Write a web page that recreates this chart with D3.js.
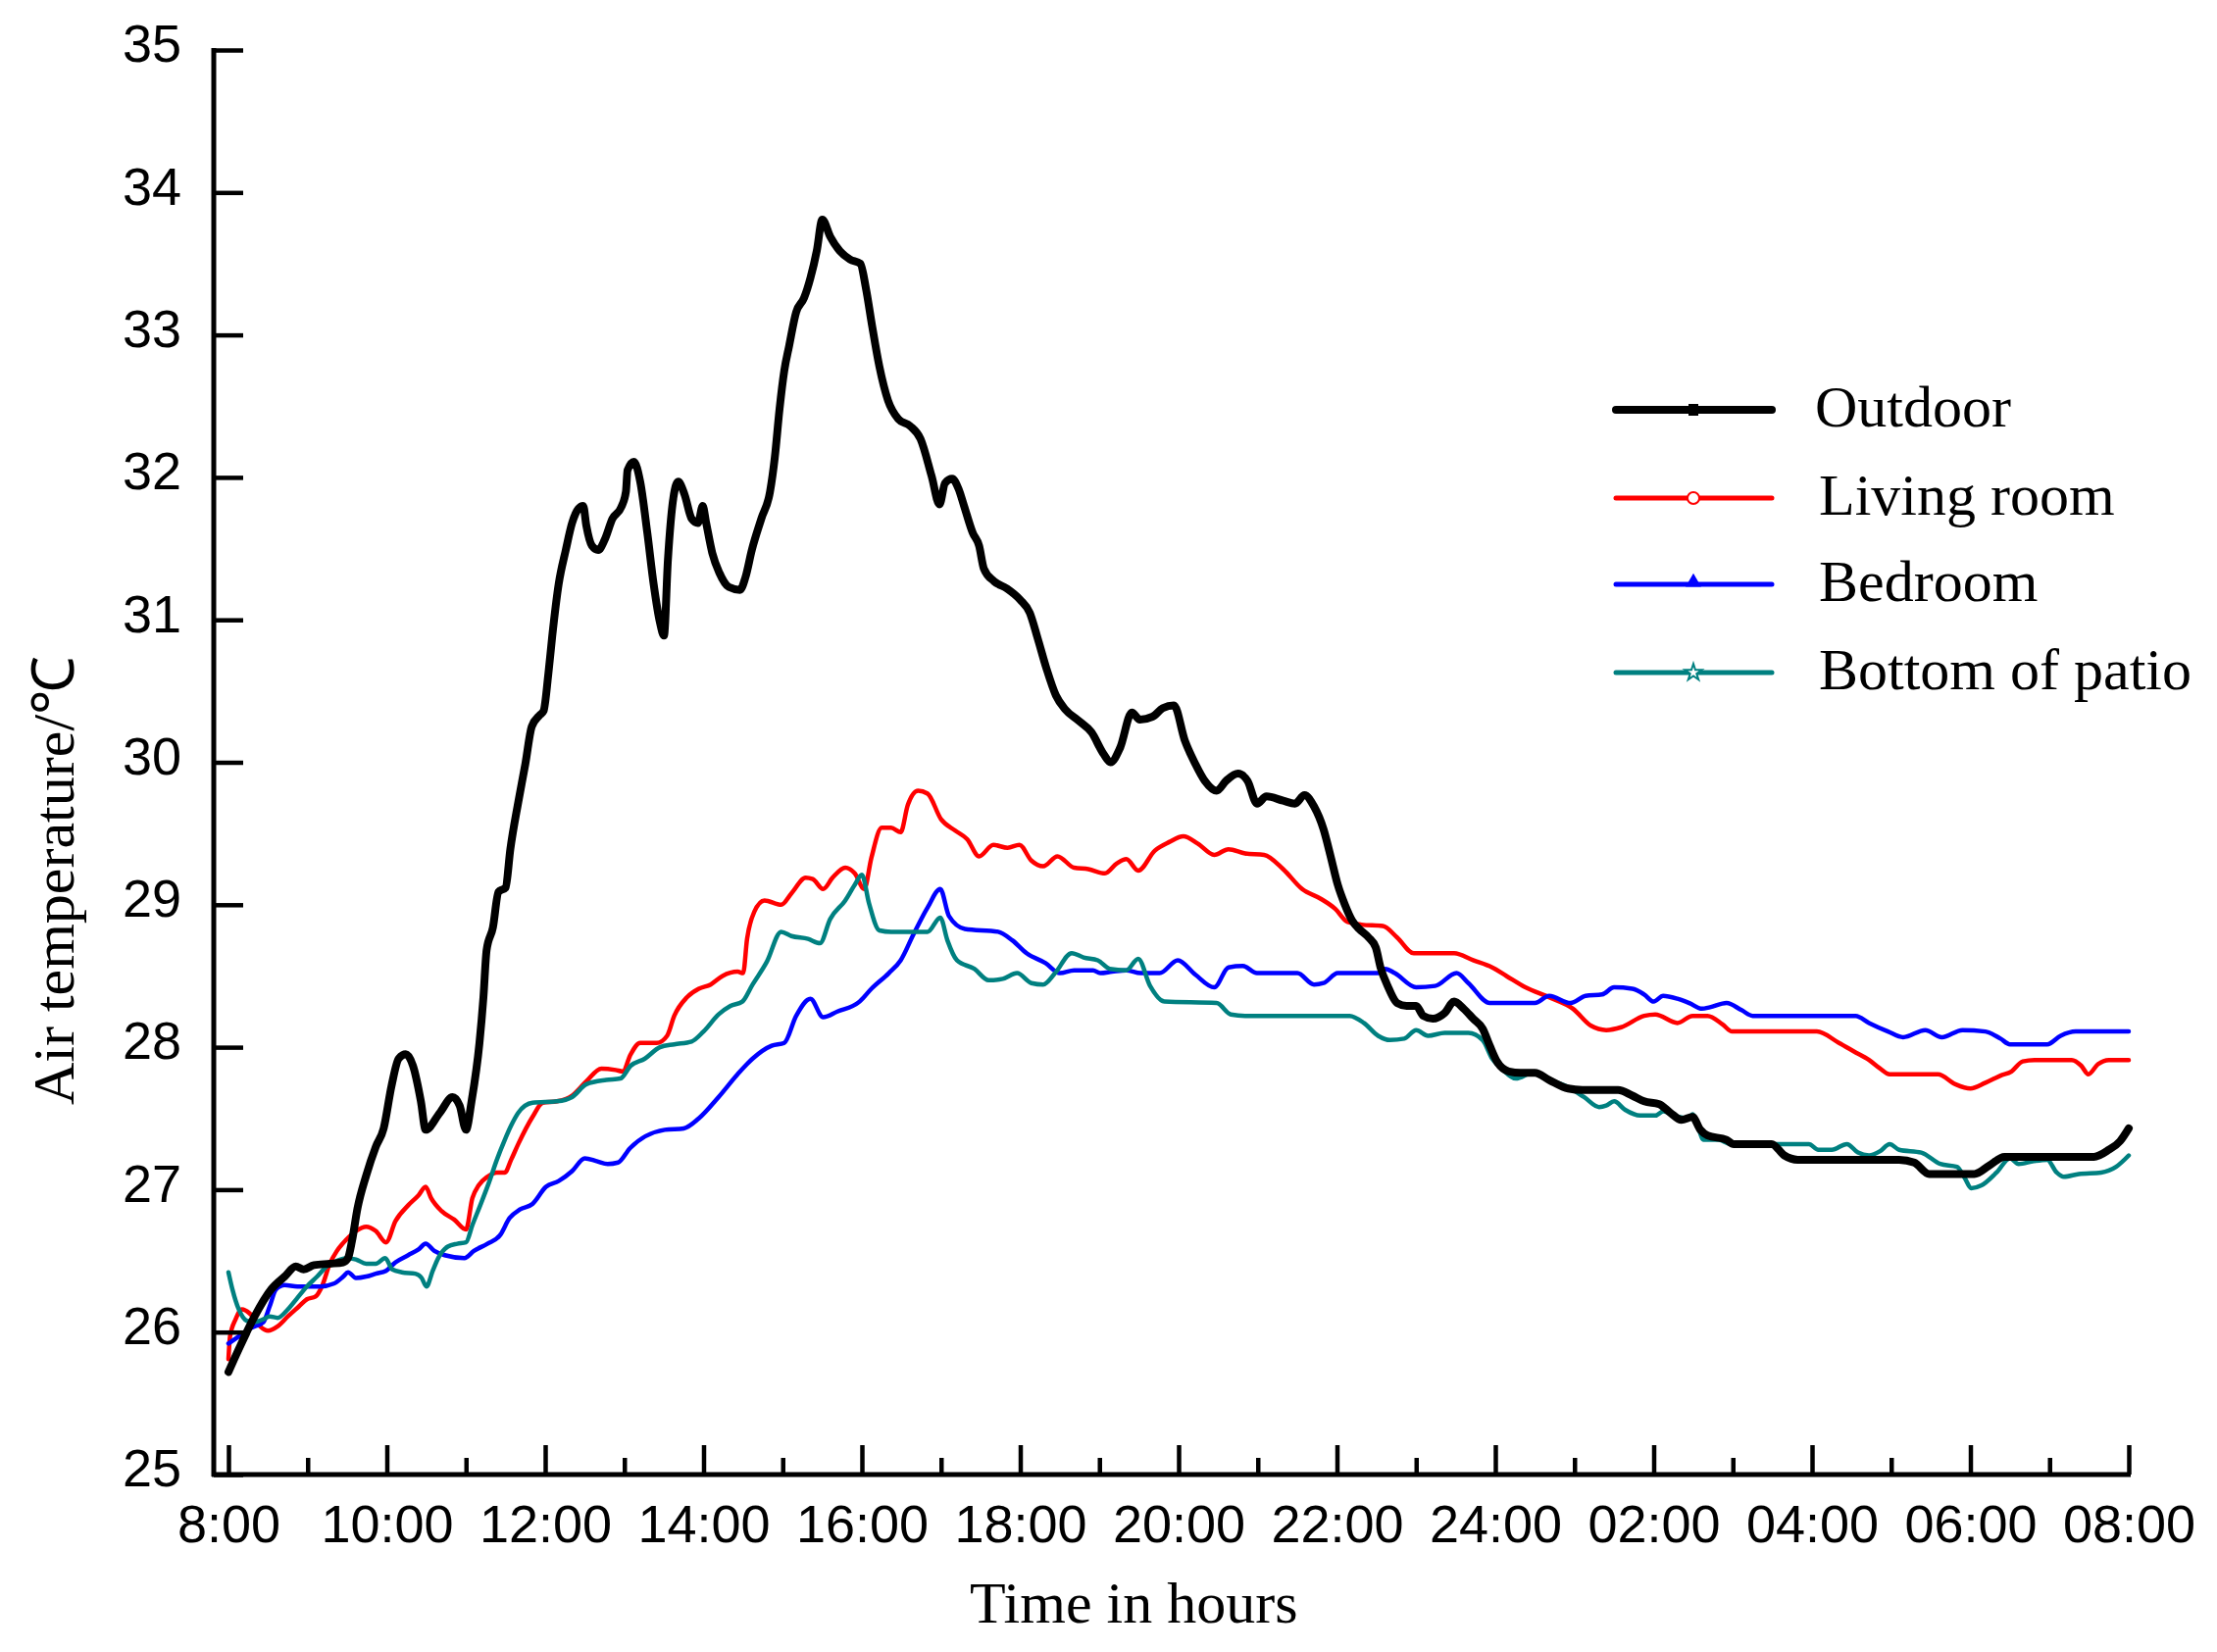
<!DOCTYPE html>
<html>
<head>
<meta charset="utf-8">
<script src="https://cdn.jsdelivr.net/npm/d3@7"></script>
<style>
  body { margin: 0; background: #fff; }
</style>
</head>
<body>
<div id="chart"></div>
<script>
// hours after 8:00
const outdoorHour = [0,0.13,0.33,0.54,0.71,0.85,0.95,1.08,1.28,1.45,1.51,1.56,1.63,1.74,1.86,1.96,2.06,2.15,2.24,2.33,2.43,2.49,2.67,2.83,2.92,3.00,3.07,3.17,3.22,3.26,3.34,3.41,3.50,3.56,3.66,3.75,3.83,3.93,3.98,4.04,4.09,4.17,4.26,4.34,4.42,4.48,4.52,4.59,4.67,4.75,4.85,4.96,5.02,5.04,5.12,5.20,5.29,5.37,5.45,5.50,5.55,5.62,5.68,5.76,5.85,5.93,5.99,6.03,6.11,6.20,6.32,6.46,6.53,6.61,6.73,6.84,6.90,6.96,7.02,7.08,7.17,7.27,7.35,7.43,7.50,7.60,7.72,7.85,7.98,8.05,8.13,8.22,8.33,8.46,8.61,8.74,8.88,8.98,9.05,9.14,9.22,9.29,9.40,9.48,9.54,9.67,9.83,10.00,10.12,10.22,10.33,10.45,10.57,10.74,10.90,11.05,11.14,11.26,11.41,11.51,11.67,11.80,11.94,12.08,12.21,12.33,12.48,12.60,12.75,12.87,12.99,13.11,13.32,13.47,13.59,13.71,13.83,13.92,14.01,14.10,14.19,14.28,14.40,14.49,14.55,14.64,14.76,14.88,15.00,15.09,15.21,15.36,15.48,15.60,15.72,15.84,15.93,16.02,16.17,16.32,16.50,16.68,16.92,17.10,17.55,17.73,17.88,18.07,18.21,18.35,18.49,18.59,18.68,18.92,19.01,19.49,19.65,19.82,21.10,21.29,21.48,22.05,22.24,22.43,23.56,23.75,23.89,24.00]
const outdoorTemp = [25.72,25.88,26.11,26.30,26.39,26.46,26.44,26.47,26.48,26.49,26.52,26.64,26.87,27.10,27.30,27.43,27.73,27.92,27.95,27.87,27.62,27.42,27.54,27.65,27.59,27.42,27.62,28.03,28.35,28.68,28.84,29.09,29.12,29.39,29.72,29.99,30.25,30.33,30.36,30.62,30.89,31.25,31.49,31.68,31.78,31.80,31.66,31.52,31.49,31.56,31.71,31.79,31.90,32.05,32.11,31.97,31.61,31.25,30.98,30.89,31.42,31.86,31.97,31.88,31.71,31.68,31.80,31.69,31.47,31.33,31.23,31.21,31.30,31.49,31.71,31.90,32.14,32.48,32.75,32.92,33.16,33.26,33.40,33.59,33.81,33.69,33.59,33.53,33.50,33.33,33.06,32.78,32.54,32.41,32.36,32.27,32.01,31.81,31.96,31.99,31.92,31.80,31.61,31.52,31.36,31.27,31.22,31.14,31.05,30.87,30.66,30.47,30.37,30.29,30.21,30.06,30.00,30.10,30.35,30.30,30.32,30.38,30.40,30.15,29.99,29.87,29.80,29.87,29.92,29.87,29.71,29.76,29.73,29.71,29.77,29.69,29.53,29.34,29.14,29.00,28.89,28.83,28.77,28.70,28.56,28.43,28.31,28.29,28.29,28.22,28.20,28.24,28.32,28.27,28.20,28.13,28.01,27.90,27.83,27.82,27.82,27.77,27.71,27.70,27.70,27.66,27.62,27.60,27.54,27.49,27.51,27.42,27.38,27.35,27.32,27.32,27.24,27.21,27.21,27.19,27.11,27.11,27.17,27.23,27.23,27.28,27.34,27.43]

const livingHour = [0,0.02,0.09,0.17,0.29,0.40,0.50,0.62,0.75,0.89,0.99,1.10,1.18,1.28,1.37,1.49,1.61,1.74,1.86,1.99,2.11,2.27,2.40,2.49,2.56,2.69,2.85,3.00,3.08,3.16,3.27,3.39,3.49,3.57,3.66,3.84,3.97,4.15,4.34,4.52,4.71,4.89,4.98,5.08,5.20,5.41,5.54,5.63,5.79,5.94,6.09,6.24,6.43,6.50,6.55,6.64,6.77,6.98,7.11,7.29,7.38,7.51,7.63,7.79,7.91,8.03,8.12,8.25,8.37,8.49,8.58,8.71,8.83,9.00,9.18,9.33,9.48,9.66,9.84,9.99,10.14,10.29,10.47,10.68,10.86,11.07,11.22,11.34,11.49,11.70,11.88,12.06,12.24,12.45,12.63,12.84,13.08,13.32,13.56,13.80,13.98,14.13,14.31,14.58,14.76,14.97,15.48,15.72,15.96,16.14,16.38,16.68,16.98,17.21,17.40,17.59,17.88,18.02,18.30,18.49,18.68,18.87,18.99,20.06,20.34,20.53,20.72,20.86,20.98,21.59,21.81,22.00,22.19,22.38,22.52,22.66,22.81,23.28,23.40,23.49,23.61,23.75,24.00]
const livingTemp = [25.81,25.97,26.09,26.16,26.12,26.04,26.01,26.04,26.11,26.18,26.23,26.25,26.32,26.48,26.57,26.65,26.71,26.74,26.71,26.63,26.78,26.89,26.96,27.02,26.94,26.85,26.79,26.72,26.94,27.03,27.09,27.12,27.12,27.21,27.32,27.51,27.61,27.62,27.66,27.76,27.85,27.84,27.83,27.95,28.03,28.03,28.08,28.22,28.35,28.41,28.44,28.50,28.53,28.52,28.76,28.95,29.03,29.00,29.08,29.19,29.18,29.11,29.19,29.26,29.22,29.11,29.33,29.54,29.54,29.51,29.70,29.80,29.78,29.60,29.52,29.46,29.34,29.42,29.40,29.42,29.31,29.27,29.34,29.26,29.25,29.22,29.29,29.32,29.24,29.38,29.44,29.48,29.43,29.35,29.39,29.36,29.35,29.25,29.11,29.04,28.97,28.88,28.86,28.85,28.77,28.66,28.66,28.61,28.56,28.50,28.42,28.35,28.27,28.15,28.12,28.14,28.22,28.23,28.17,28.22,28.22,28.16,28.11,28.11,28.03,27.97,27.91,27.85,27.81,27.81,27.74,27.71,27.75,27.80,27.83,27.90,27.91,27.91,27.87,27.81,27.88,27.91,27.91]

const bedroomHour = [0,0.13,0.29,0.44,0.52,0.60,0.71,0.87,1.16,1.33,1.45,1.51,1.61,1.74,1.86,1.99,2.11,2.27,2.40,2.49,2.60,2.73,2.98,3.10,3.27,3.43,3.55,3.68,3.84,4.01,4.17,4.34,4.50,4.65,4.79,4.92,5.07,5.51,5.75,5.94,6.19,6.43,6.62,6.86,7.02,7.17,7.35,7.51,7.69,7.97,8.12,8.34,8.49,8.65,8.83,8.99,9.10,9.30,9.72,9.90,10.08,10.32,10.50,10.68,10.92,11.01,11.16,11.34,11.52,11.76,11.99,12.21,12.45,12.63,12.81,12.99,13.50,13.71,13.83,14.01,14.52,14.61,14.73,15.00,15.24,15.51,15.66,15.93,16.50,16.68,16.95,17.14,17.35,17.50,17.73,17.88,18.00,18.12,18.30,18.45,18.61,18.71,18.92,19.11,19.25,20.55,20.72,20.96,21.15,21.43,21.64,21.90,22.19,22.38,22.50,22.97,23.14,23.33,24.00]
const bedroomTemp = [25.92,25.97,26.03,26.07,26.18,26.30,26.33,26.32,26.32,26.34,26.39,26.42,26.38,26.39,26.41,26.43,26.49,26.54,26.58,26.62,26.57,26.54,26.52,26.57,26.62,26.68,26.80,26.86,26.90,27.02,27.06,27.13,27.22,27.20,27.18,27.19,27.29,27.42,27.43,27.50,27.65,27.81,27.92,28.01,28.03,28.22,28.34,28.21,28.25,28.32,28.41,28.52,28.61,28.79,28.98,29.11,28.92,28.83,28.81,28.75,28.66,28.59,28.52,28.54,28.54,28.52,28.53,28.54,28.52,28.52,28.61,28.51,28.42,28.56,28.57,28.52,28.52,28.44,28.45,28.52,28.52,28.55,28.52,28.42,28.43,28.52,28.45,28.31,28.31,28.36,28.31,28.36,28.37,28.42,28.41,28.37,28.32,28.36,28.34,28.31,28.27,28.28,28.31,28.26,28.22,28.22,28.17,28.11,28.07,28.12,28.07,28.12,28.11,28.06,28.02,28.02,28.08,28.11,28.11]

const patioHour = [0,0.05,0.13,0.23,0.33,0.44,0.52,0.62,0.75,0.87,0.99,1.12,1.24,1.37,1.49,1.61,1.74,1.86,1.98,2.07,2.19,2.36,2.44,2.50,2.58,2.65,2.77,2.89,3.00,3.08,3.18,3.29,3.39,3.49,3.57,3.66,3.84,4.15,4.34,4.52,4.77,4.95,5.08,5.26,5.45,5.63,5.85,6.00,6.19,6.34,6.49,6.62,6.80,6.98,7.11,7.32,7.47,7.60,7.79,7.91,8.00,8.09,8.22,8.37,8.83,8.99,9.08,9.20,9.42,9.60,9.78,9.96,10.14,10.29,10.44,10.65,10.80,10.98,11.13,11.34,11.49,11.64,11.82,12.48,12.66,12.84,14.16,14.34,14.52,14.67,14.85,15.00,15.15,15.36,15.66,15.84,15.96,16.08,16.26,16.47,16.68,16.92,17.12,17.31,17.40,17.50,17.64,17.83,18.02,18.12,18.26,18.45,18.49,18.56,18.63,18.82,18.97,19.96,20.08,20.25,20.44,20.58,20.72,20.86,20.98,21.10,21.38,21.62,21.83,21.93,22.01,22.14,22.33,22.50,22.61,22.80,22.97,23.09,23.18,23.37,23.65,23.84,24.00]
const patioTemp = [26.42,26.30,26.16,26.08,26.07,26.09,26.11,26.10,26.16,26.24,26.32,26.39,26.46,26.50,26.52,26.51,26.48,26.48,26.52,26.44,26.42,26.41,26.38,26.32,26.43,26.52,26.60,26.62,26.63,26.75,26.89,27.05,27.21,27.35,27.45,27.54,27.61,27.62,27.65,27.74,27.77,27.78,27.87,27.92,28.00,28.02,28.04,28.11,28.23,28.29,28.32,28.44,28.60,28.81,28.78,28.76,28.73,28.90,29.03,29.14,29.21,29.01,28.82,28.81,28.81,28.91,28.75,28.61,28.55,28.47,28.48,28.52,28.45,28.44,28.52,28.66,28.63,28.61,28.55,28.54,28.62,28.43,28.32,28.31,28.23,28.22,28.22,28.17,28.08,28.05,28.06,28.12,28.08,28.10,28.10,28.05,27.92,27.85,27.78,27.82,27.77,27.72,27.65,27.58,27.59,27.62,27.56,27.52,27.52,27.55,27.52,27.50,27.53,27.44,27.35,27.35,27.32,27.32,27.28,27.28,27.32,27.26,27.24,27.27,27.32,27.28,27.26,27.18,27.16,27.08,27.01,27.03,27.12,27.22,27.18,27.20,27.21,27.12,27.09,27.11,27.12,27.16,27.24]

const seriesNames = ['Outdoor', 'Living room', 'Bedroom', 'Bottom of patio']
const seriesColors = ['#000000', '#ff0000', '#0000ff', '#008080']
const hourLabels = ['8:00', '10:00', '12:00', '14:00', '16:00', '18:00', '20:00', '22:00', '24:00', '02:00', '04:00', '06:00', '08:00']
const tempTicks = [25, 26, 27, 28, 29, 30, 31, 32, 33, 34, 35]

const width = 2261,
    height = 1685

const x = d3.scaleLinear().domain([0, 24]).range([233, 2171])
const y = d3.scaleLinear().domain([25, 35]).range([1504, 51])

const svg = d3.select('#chart').append('svg')
    .attr('width', width)
    .attr('height', height)
    .style('background', '#fff')

const series = [
    [outdoorHour, outdoorTemp],
    [livingHour, livingTemp],
    [bedroomHour, bedroomTemp],
    [patioHour, patioTemp]
].map(([h, t], i) => ({
    name: seriesNames[i],
    color: seriesColors[i],
    points: h.map((d, j) => [d, t[j]])
}))

const line = d3.line()
    .x(d => x(d[0]))
    .y(d => y(d[1]))
    .curve(d3.curveMonotoneX)

// coloured rooms under, outdoor on top
series.slice(1).concat(series[0]).forEach(s => {
    svg.append('path')
        .datum(s.points)
        .attr('fill', 'none')
        .attr('stroke', s.color)
        .attr('stroke-width', s.name === 'Outdoor' ? 8 : 4.5)
        .attr('stroke-linejoin', 'round')
        .attr('stroke-linecap', 'round')
        .attr('d', line)
})

// x axis: major + minor ticks pointing up
const xMajor = d3.range(0, 25, 2)
const xMinor = d3.range(1, 24, 2)

const xAxis = svg.append('g')
    .attr('transform', `translate(0,${y(25)})`)
    .call(d3.axisBottom(x)
        .tickValues(xMajor)
        .tickSize(-30)
        .tickSizeOuter(0)
        .tickPadding(31)
        .tickFormat((d, i) => hourLabels[i]))

xAxis.select('.domain').remove()
xAxis.selectAll('line').attr('stroke-width', 4.5)
xAxis.selectAll('text')
    .attr('font-family', '"Liberation Sans", Arial, sans-serif')
    .attr('font-size', 54)
    .attr('fill', '#000')

const xMinorAxis = svg.append('g')
    .attr('transform', `translate(0,${y(25)})`)
    .call(d3.axisBottom(x)
        .tickValues(xMinor)
        .tickSize(-17)
        .tickSizeOuter(0)
        .tickFormat(''))
xMinorAxis.select('.domain').remove()
xMinorAxis.selectAll('line').attr('stroke-width', 4.5)

// y axis
const yAxisX = x(0) - 15
const yAxis = svg.append('g')
    .attr('transform', `translate(${yAxisX},0)`)
    .call(d3.axisLeft(y)
        .tickValues(tempTicks)
        .tickSize(-30)
        .tickSizeOuter(0)
        .tickPadding(33))

yAxis.select('.domain').remove()
yAxis.selectAll('line').attr('stroke-width', 4.5)
yAxis.selectAll('text')
    .attr('font-family', '"Liberation Sans", Arial, sans-serif')
    .attr('font-size', 54)
    .attr('fill', '#000')
    .attr('dy', '0.22em')

svg.append('line')
    .attr('x1', yAxisX).attr('x2', yAxisX)
    .attr('y1', y(35) - 2).attr('y2', y(25) + 2)
    .attr('stroke', '#000')
    .attr('stroke-width', 5)

svg.append('line')
    .attr('x1', yAxisX - 2).attr('x2', x(24) + 2)
    .attr('y1', y(25)).attr('y2', y(25))
    .attr('stroke', '#000')
    .attr('stroke-width', 5)

// axis titles
svg.append('text')
    .attr('x', 989)
    .attr('y', 1655)
    .attr('font-family', '"Liberation Serif", "Times New Roman", serif')
    .attr('font-size', 60)
    .text('Time in hours')

svg.append('text')
    .attr('transform', 'translate(75,898) rotate(-90)')
    .attr('text-anchor', 'middle')
    .attr('font-family', '"Liberation Serif", "Times New Roman", serif')
    .attr('font-size', 60)
    .text('Air temperature/℃')

// legend
const legendY = [418, 508, 596, 686]
const legend = svg.append('g')

series.forEach((s, i) => {
    const g = legend.append('g').attr('transform', `translate(0,${legendY[i]})`)
    g.append('line')
        .attr('x1', 1648).attr('x2', 1807)
        .attr('stroke', s.color)
        .attr('stroke-width', i === 0 ? 8 : 5)
        .attr('stroke-linecap', 'round')

    const cx = 1727
    if (i === 0) {
        g.append('rect').attr('x', cx - 5).attr('y', -6).attr('width', 10).attr('height', 12).attr('fill', '#000')
    } else if (i === 1) {
        g.append('circle').attr('cx', cx).attr('r', 6).attr('fill', '#fff').attr('stroke', s.color).attr('stroke-width', 2)
    } else if (i === 2) {
        g.append('path').attr('d', d3.symbol(d3.symbolTriangle, 110)()).attr('transform', `translate(${cx},-2)`).attr('fill', s.color)
    } else {
        g.append('path').attr('d', d3.symbol(d3.symbolStar, 90)()).attr('transform', `translate(${cx},0)`).attr('fill', '#fff').attr('stroke', s.color).attr('stroke-width', 2)
    }

    g.append('text')
        .attr('x', i === 0 ? 1851 : 1855)
        .attr('y', 17)
        .attr('font-family', '"Liberation Serif", "Times New Roman", serif')
        .attr('font-size', 60)
        .text(s.name)
})
</script>
</body>
</html>
